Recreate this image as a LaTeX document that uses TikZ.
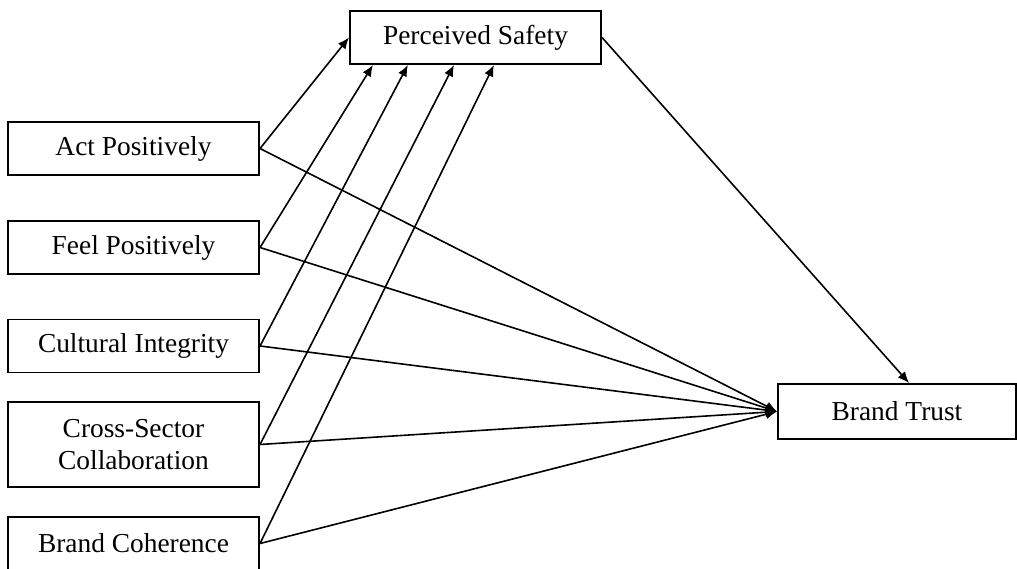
\documentclass[tikz,border=0pt]{standalone}
\usepackage{fontspec}
\setmainfont{Liberation Serif}
\usetikzlibrary{arrows.meta,positioning}

\begin{document}
\begin{tikzpicture}[x=0.438pt, y=-0.438pt,
            construct/.style={rectangle, draw, line width=0.85pt, minimum width=110pt, minimum height=23.2pt, inner sep=0pt, align=center, font=\fontsize{12}{13.8}\selectfont},
            link/.style={-{Latex[length=5pt,width=4.2pt]}, line width=0.7pt}]
            \useasboundingbox (0,0) rectangle (1017,569);

            % Constructs
            \node[construct] (safety) at (475.5,37.5) {Perceived Safety};
            \node[construct] (act) at (133.5,148.5) {Act Positively};
            \node[construct] (feel) at (133.5,247.5) {Feel Positively};
            \node[construct] (culture) at (133.5,346) {Cultural Integrity};
            \node[construct, minimum height=37.2pt] (sector) at (133.5,444.5) {Cross-Sector\\Collaboration};
            \node[construct] (coherence) at (133.5,543.5) {Brand Coherence};
            \node[construct, minimum width=104.2pt, minimum height=24.1pt] (trust) at (897,411.5) {Brand Trust};

            % Paths to Perceived Safety
            \draw[link] (act.east) -- (safety.west);
            \draw[link] (feel.east) -- ([xshift=10.5pt]safety.south west);
            \draw[link] (culture.east) -- ([xshift=25.8pt]safety.south west);
            \draw[link] (sector.east) -- ([xshift=46pt]safety.south west);
            \draw[link] (coherence.east) -- ([xshift=63.5pt]safety.south west);

            % Paths to Brand Trust
            \draw[link] (act.east) -- (trust.west);
            \draw[link] (feel.east) -- (trust.west);
            \draw[link] (culture.east) -- (trust.west);
            \draw[link] (sector.east) -- (trust.west);
            \draw[link] (coherence.east) -- (trust.west);
            \draw[link] (safety.east) -- ([xshift=57.8pt]trust.north west);
        \end{tikzpicture}
\end{document}
